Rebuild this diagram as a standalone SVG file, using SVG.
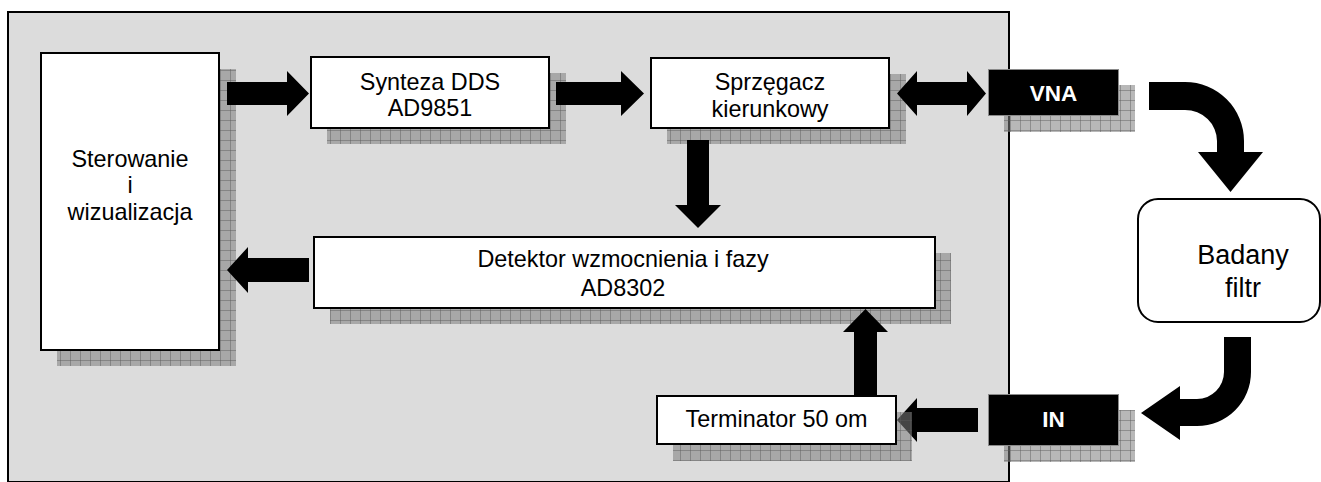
<svg xmlns="http://www.w3.org/2000/svg" width="1321" height="482" viewBox="0 0 1321 482">
  <style>
    .box { fill: #ffffff; stroke: #000000; stroke-width: 2; }
    .dark { fill: #000000; stroke: #8a8a8a; stroke-width: 1; }
    .shadow { fill: url(#grid); }
    .lbl { font-family: "Liberation Sans", Arial, sans-serif; font-size: 23.4px; fill: #000000; text-anchor: middle; }
    .big { font-size: 27px; }
    .inv { font-family: "Liberation Sans", Arial, sans-serif; font-size: 22.5px; font-weight: bold; fill: #ffffff; text-anchor: middle; }
    .arrow { fill: #000000; }
  </style>
  <defs>
    <!-- translucent chequered drop shadow -->
    <pattern id="grid" width="10" height="10" patternUnits="userSpaceOnUse">
      <rect width="10" height="10" fill="#7e7e7e" fill-opacity="0.55"/>
      <path d="M0 0.5H10M0.5 0V10" stroke="#5a5a5a" stroke-opacity="0.45" stroke-width="1"/>
    </pattern>
  </defs>

  <rect id="frame" x="8" y="12" width="1001" height="470" fill="#dcdcdc" stroke="#000000" stroke-width="2"/>

  <g id="sterowanie">
    <rect class="shadow" x="57" y="69" width="179" height="297"/>
    <rect class="box" x="41" y="53" width="178" height="297"/>
    <text class="lbl" x="130" y="167">Sterowanie</text>
    <text class="lbl" x="130" y="193">i</text>
    <text class="lbl" x="130" y="220">wizualizacja</text>
  </g>

  <g id="synteza">
    <rect class="shadow" x="327" y="73" width="239" height="71"/>
    <rect class="box" x="311" y="57" width="238" height="71"/>
    <text class="lbl" x="430" y="90">Synteza DDS</text>
    <text class="lbl" x="430" y="116">AD9851</text>
  </g>

  <g id="sprzegacz">
    <rect class="shadow" x="667" y="74" width="239" height="70"/>
    <rect class="box" x="651" y="58" width="238" height="70"/>
    <text class="lbl" x="770" y="90">Sprzęgacz</text>
    <text class="lbl" x="770" y="117">kierunkowy</text>
  </g>

  <g id="detektor">
    <rect class="shadow" x="330" y="253" width="621" height="71"/>
    <rect class="box" x="314" y="237" width="621" height="71"/>
    <text class="lbl" x="623" y="267">Detektor wzmocnienia i fazy</text>
    <text class="lbl" x="623" y="296">AD8302</text>
  </g>

  <g id="vna">
    <rect class="shadow" x="1004" y="85" width="131" height="47"/>
    <rect class="dark" x="988.5" y="69.5" width="130" height="46"/>
    <text class="inv" x="1053.5" y="101">VNA</text>
  </g>

  <g id="in">
    <rect class="shadow" x="1004" y="410" width="131" height="52"/>
    <rect class="dark" x="988.5" y="394.5" width="130" height="51"/>
    <text class="inv" x="1053.5" y="427">IN</text>
  </g>

  <g id="filtr">
    <rect class="box" x="1138" y="199" width="182" height="123" rx="20" ry="20"/>
    <text class="lbl big" x="1243" y="264">Badany</text>
    <text class="lbl big" x="1243" y="297">filtr</text>
  </g>

  <g id="connectors">
    <path class="arrow" d="M227 82H287V71L309 93.5L287 116V105H227Z"/>
    <path class="arrow" d="M556 82H621V71L644 93.5L621 116V105H556Z"/>
    <path class="arrow" d="M897 93.5L917 71V82H967V71L986 93.5L967 116V105H917V116Z"/>
    <path class="arrow" d="M687 140H709V205H721L698 228L675 205H687Z"/>
    <path class="arrow" d="M309 258V282H248V293L227 270L248 247V258Z"/>
    <path class="arrow" d="M854 396V332H843L865.5 309L888 332H877V396Z"/>
    <path class="arrow" d="M978 408V432H917V442L897 420L917 398V408Z"/>
    <path class="arrow" d="M1149 82H1185A59 59 0 0 1 1244 141V152H1263L1230.5 192L1198 152H1217V141A32 31 0 0 0 1185 110H1149Z"/>
    <path class="arrow" d="M1224 337H1251V372A54 54 0 0 1 1197 426H1180V440L1141 413L1180 386V399H1197A27 27 0 0 0 1224 372Z"/>
  </g>

  <!-- terminator sits above the incoming arrow head, so its shadow tints it -->
  <g id="terminator">
    <rect class="shadow" x="673" y="412" width="239" height="49"/>
    <rect class="box" x="657" y="396" width="239" height="48"/>
    <text class="lbl" x="776.5" y="427">Terminator 50 om</text>
  </g>
</svg>
